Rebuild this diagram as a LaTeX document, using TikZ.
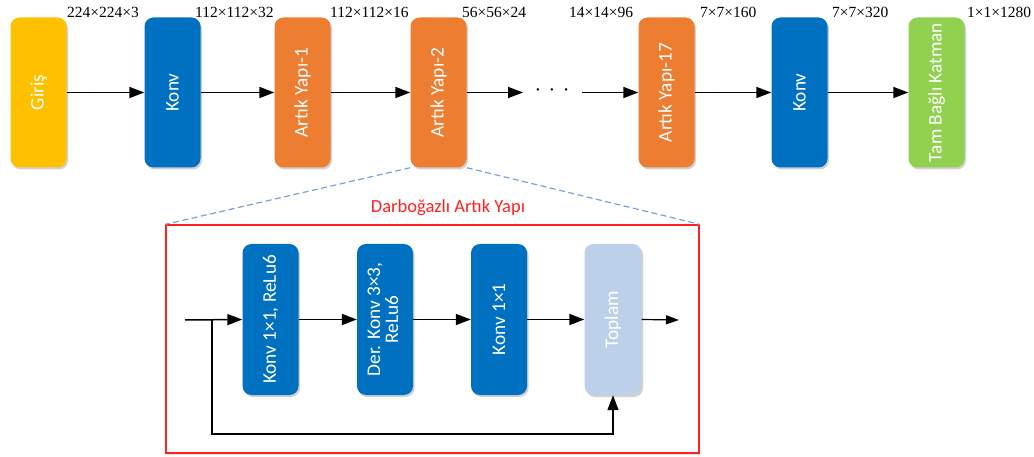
\documentclass[tikz,border=0pt]{standalone}
\usepackage{fontspec}
\setmainfont{Liberation Serif}
\newfontfamily\boxfont{Carlito}
\usetikzlibrary{arrows.meta,shadows}
\definecolor{cyellow}{HTML}{FFC000}
\definecolor{cblue}{HTML}{0070C0}
\definecolor{corange}{HTML}{ED7D31}
\definecolor{cgreen}{HTML}{92D050}
\definecolor{clight}{HTML}{BDD0E9}
\definecolor{cdash}{HTML}{7AA0D8}
\definecolor{cred}{HTML}{FF2020}
\tikzset{
  blk/.style={rounded corners=9pt, minimum width=56pt, minimum height=150pt, inner sep=0pt,
    text=white, font=\boxfont\fontsize{19.3}{21}\selectfont,
    drop shadow={shadow xshift=1.5pt, shadow yshift=-2pt, opacity=0.18, fill=black}},
  dimlbl/.style={anchor=west, inner sep=0pt, font=\fontsize{15.5}{17}\selectfont},
  arr/.style={-{Triangle[length=15pt,width=11pt]}, line width=1.5pt},
  dashln/.style={cdash, line width=1.2pt, dash pattern=on 6pt off 3.5pt},
}
\begin{document}
\begin{tikzpicture}[x=1pt,y=-1pt]
\useasboundingbox (0,0) rectangle (1034,457);
% top row
\node[blk, fill=cyellow] (in) at (38.5,92.5) {\rotatebox{90}{Giriş}};
\node[blk, fill=cblue] (k1) at (172.5,92.5) {\rotatebox{90}{Konv}};
\node[blk, fill=corange] (a1) at (302.5,92.5) {\rotatebox{90}{Artık Yapı-1}};
\node[blk, fill=corange] (a2) at (438.5,92.5) {\rotatebox{90}{Artık Yapı-2}};
\node[inner sep=0pt, font=\fontsize{20}{20}\selectfont] (dots) at (552,93) {\raisebox{-0.5ex}{·\hspace{7.5pt}·\hspace{7.5pt}·}};
\coordinate (d1) at (523,92.5);
\coordinate (d2) at (582,92.5);
\node[blk, fill=corange] (a17) at (666.5,92.5) {\rotatebox{90}{Artık Yapı-17}};
\node[blk, fill=cblue] (k2) at (799.5,92.5) {\rotatebox{90}{Konv}};
\node[blk, fill=cgreen] (fc) at (936.5,92.5) {\rotatebox{90}{Tam Bağlı Katman}};

\draw[arr] (in.east) -- (k1.west);
\draw[arr] (k1.east) -- (a1.west);
\draw[arr] (a1.east) -- (a2.west);
\draw[arr] (a2.east) -- (d1);
\draw[arr] (d2) -- (a17.west);
\draw[arr] (a17.east) -- (k2.west);
\draw[arr] (k2.east) -- (fc.west);

% dimension labels
\node[dimlbl] (l1) at (67,12) {224×224×3};
\node[dimlbl] (l2) at (195,12) {112×112×32};
\node[dimlbl] (l3) at (330,12) {112×112×16};
\node[dimlbl] (l4) at (462,12) {56×56×24};
\node[dimlbl] (l5) at (569,12) {14×14×96};
\node[dimlbl] (l6) at (700,12) {7×7×160};
\node[dimlbl] (l7) at (832,12) {7×7×320};
\node[dimlbl] (l8) at (967,12) {1×1×1280};

% detail frame
\node[draw=cred, line width=1.3pt, minimum width=533pt, minimum height=228pt, inner sep=0pt,
  drop shadow={shadow xshift=1pt, shadow yshift=-1.5pt, opacity=0.12, fill=black}, fill=white] (frame) at (432.5,339) {};
\node[text=cred, font=\boxfont\fontsize{18.5}{20}\selectfont, inner sep=0pt] (title) at (448,208) {Darboğazlı Artık Yapı};
\draw[dashln] (a2.south west) -- (frame.north west);
\draw[dashln] (a2.south east) -- (frame.north east);

\node[blk, fill=cblue, minimum height=151pt] (b1) at (270.5,319.5) {\rotatebox{90}{Konv 1×1, ReLu6}};
\node[blk, fill=cblue, minimum height=151pt] (b2) at (385,319.5) {\rotatebox{90}{\begin{tabular}{@{}c@{}}Der. Konv 3×3,\\[-3pt]ReLu6\end{tabular}}};
\node[blk, fill=cblue, minimum height=151pt] (b3) at (499,319.5) {\rotatebox{90}{Konv 1×1}};
\node[blk, fill=clight, minimum height=151pt, minimum width=57pt] (b4) at (613,319.5) {\rotatebox{90}{Toplam}};

\coordinate (inp) at (185,320);
\coordinate (split) at (212,320);
\coordinate (outp) at (679,320);
\coordinate (fb1) at (212,434);
\coordinate (fb2) at (b4.south |- fb1);

\draw[arr] (inp) -- (b1.west);
\draw[arr] (b1.east) -- (b2.west);
\draw[arr] (b2.east) -- (b3.west);
\draw[arr] (b3.east) -- (b4.west);
\draw[-{Triangle[length=13pt,width=9pt]}, line width=1.2pt] (b4.east) -- (outp);
\draw[arr] (split) -- (fb1) -- (fb2) -- (b4.south);
\end{tikzpicture}
\end{document}
